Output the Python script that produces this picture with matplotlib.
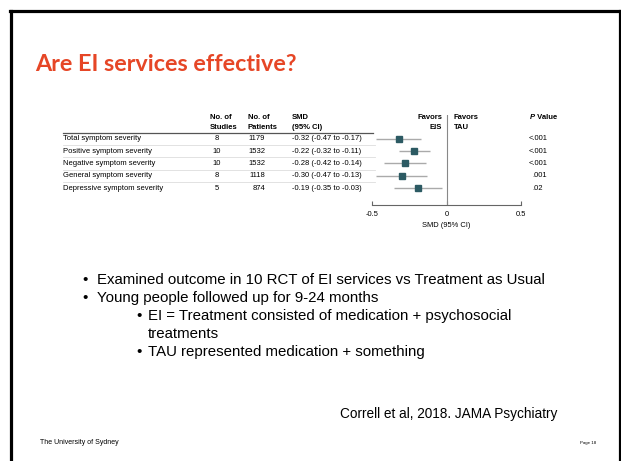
# forest plot slide: EI services vs treatment as usual
import matplotlib.pyplot as plt
from matplotlib.lines import Line2D
from matplotlib.transforms import blended_transform_factory

outcomes = ['Total symptom severity', 'Positive symptom severity',
            'Negative symptom severity', 'General symptom severity',
            'Depressive symptom severity']
n_studies = [8, 10, 10, 8, 5]
n_patients = [1179, 1532, 1532, 1118, 874]
smd = [-0.32, -0.22, -0.28, -0.30, -0.19]
ci_low = [-0.47, -0.32, -0.42, -0.47, -0.35]
ci_high = [-0.17, -0.11, -0.14, -0.13, -0.03]
p_values = ['<.001', '<.001', '<.001', '.001', '.02']
x_ticks = [-0.5, 0, 0.5]
x_ticklabels = ['-0.5', '0', '0.5']

bullets = [
    (0, 'Examined outcome in 10 RCT of EI services vs Treatment as Usual'),
    (0, 'Young people followed up for 9-24 months'),
    (1, 'EI = Treatment consisted of medication + psychosocial\ntreatments'),
    (1, 'TAU represented medication + something'),
]

W, H = 621, 461
dpi = 100
fig = plt.figure(figsize=(W / dpi, H / dpi), dpi=dpi)
plt.rcParams['font.family'] = ['Liberation Sans', 'DejaVu Sans']


def fx(px):
    return px / W


def fy(py):
    return 1 - py / H


# slide frame
frame_kw = dict(color='black', lw=2.3, transform=fig.transFigure)
fig.add_artist(Line2D([fx(10.5), fx(10.5)], [fy(11), 0], **frame_kw))
fig.add_artist(Line2D([fx(10), fx(620)], [fy(11.5), fy(11.5)], **frame_kw))
fig.add_artist(Line2D([fx(619.5), fx(619.5)], [fy(11), 0], **frame_kw))

fig.text(fx(35), fy(71), 'Are EI services effective?', color='#e64626',
         fontsize=16.8, fontweight='bold', family=['Lato', 'DejaVu Sans'],
         va='baseline')

# forest plot axes: x from -0.5 (px 372) to 0.5 (px 521)
top_px, bot_px = 115, 205
ax = fig.add_axes([fx(372), fy(bot_px), fx(521) - fx(372), (bot_px - top_px) / H])
row_px = 12.25
ax.set_xlim(-0.5, 0.5)
ax.set_ylim((bot_px - 139) / row_px, (top_px - 139) / row_px)
ax.patch.set_alpha(0)
for s in ['top', 'right', 'left']:
    ax.spines[s].set_visible(False)
ax.spines['bottom'].set_color('#666666')
ax.spines['bottom'].set_linewidth(0.8)
ax.set_yticks([])
ax.set_xticks(x_ticks)
ax.set_xticklabels(x_ticklabels)
ax.tick_params(axis='x', direction='in', length=3, width=0.8, color='#666666',
               labelsize=5.4, pad=4)
ax.axvline(0, color='#888888', lw=0.8)
ax.set_xlabel('SMD (95% CI)', fontsize=5.4, labelpad=3)

rows = list(range(len(outcomes)))
ax.hlines(rows, ci_low, ci_high, color='#aaaaaa', lw=1)
ax.plot(smd, rows, 's', color='#2c5a63', ms=4.2, ls='none')

# table text, x in figure pixels, y in rows
tr = blended_transform_factory(fig.transFigure, ax.transData)
fs = 5.5
hdr = dict(fontsize=fs, fontweight='bold', transform=fig.transFigure, va='baseline')
fig.text(fx(210), fy(119), 'No. of', **hdr)
fig.text(fx(210), fy(129), 'Studies', **hdr)
fig.text(fx(248), fy(119), 'No. of', **hdr)
fig.text(fx(248), fy(129), 'Patients', **hdr)
fig.text(fx(292), fy(119), 'SMD', **hdr)
fig.text(fx(292), fy(129), '(95% CI)', **hdr)
fig.text(fx(442), fy(119), 'Favors', ha='right', **hdr)
fig.text(fx(442), fy(129), 'EIS', ha='right', **hdr)
fig.text(fx(454), fy(119), 'Favors', **hdr)
fig.text(fx(454), fy(129), 'TAU', **hdr)
fig.text(fx(530), fy(119), 'P', fontstyle='italic', **hdr)
fig.text(fx(535), fy(119), ' Value', **hdr)

for i in rows:
    fig.text(fx(63), i, outcomes[i], fontsize=fs, va='center', transform=tr)
    fig.text(fx(217), i, str(n_studies[i]), fontsize=fs, va='center', ha='center', transform=tr)
    fig.text(fx(265), i, str(n_patients[i]), fontsize=fs, va='center', ha='right', transform=tr)
    fig.text(fx(292), i, f'{smd[i]:.2f} ({ci_low[i]:.2f} to {ci_high[i]:.2f})',
             fontsize=fs, va='center', transform=tr)
    px = 529 if p_values[i].startswith('<') else 532.5
    fig.text(fx(px), i, p_values[i], fontsize=fs, va='center', transform=tr)

ax.add_line(Line2D([fx(63), fx(373)], [-0.45, -0.45], color='#555555', lw=0.9,
                   transform=tr, clip_on=False))
for i in rows[:-1]:
    ax.add_line(Line2D([fx(63), fx(375)], [i + 0.5, i + 0.5], color='#dddddd', lw=0.6,
                       transform=tr, clip_on=False))

# bullet points
y = 284
for level, text in bullets:
    bx, tx = (82, 97) if level == 0 else (136, 148)
    fig.text(fx(bx), fy(y), '\u2022', fontsize=10.8, va='baseline')
    for ln in text.split('\n'):
        fig.text(fx(tx), fy(y), ln, fontsize=10.8, va='baseline')
        y += 17.5
    y += 0.6

fig.text(fx(340), fy(418), 'Correll et al, 2018. JAMA Psychiatry', fontsize=9.8, va='baseline')
fig.text(fx(40), fy(444), 'The University of Sydney', fontsize=5, va='baseline')
fig.text(fx(580), fy(444), 'Page 18', fontsize=3.2, va='baseline')

fig.savefig('out.png', dpi=dpi)
